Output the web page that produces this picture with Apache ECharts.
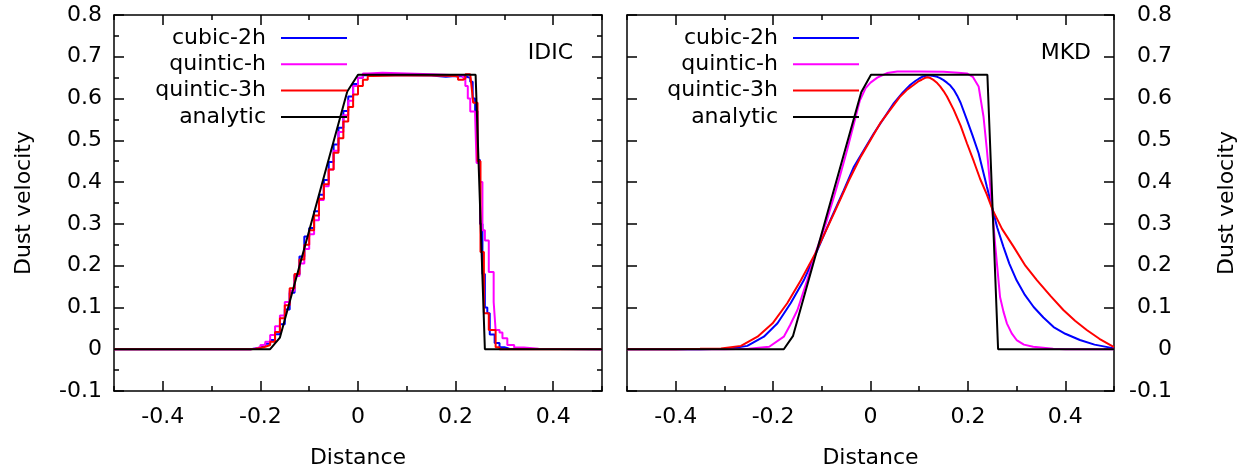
<!DOCTYPE html>
<html>
<head>
<meta charset="utf-8">
<script src="https://cdn.jsdelivr.net/npm/echarts@6/dist/echarts.min.js"></script>
<style>html,body{margin:0;padding:0;background:#fff;}#c{width:1246px;height:468px;}</style>
</head>
<body>
<div id="c"></div>
<script>
// ---- data ----
var seriesNames = ['cubic-2h', 'quintic-h', 'quintic-3h', 'analytic'];
var xMajorTicks = [-0.4, -0.2, 0, 0.2, 0.4];
var panelLabels = ['IDIC', 'MKD'];

var idicCubic2h = [[-0.5,0],[-0.23,0],[-0.22,0.002],[-0.21,0.004],[-0.2,0.008],[-0.19,0.013],[-0.18,0.022],[-0.17,0.036],[-0.16,0.06],[-0.15,0.095],[-0.14,0.135],[-0.13,0.178],[-0.12,0.222],[-0.11,0.27],[-0.1,0.29],[-0.09,0.33],[-0.08,0.37],[-0.07,0.405],[-0.06,0.448],[-0.05,0.49],[-0.04,0.53],[-0.03,0.57],[-0.02,0.605],[-0.01,0.635],[0,0.65],[0.01,0.656],[0.05,0.656],[0.1,0.655],[0.15,0.652],[0.18,0.654],[0.2,0.653],[0.22,0.65],[0.23,0.64],[0.235,0.6],[0.24,0.57],[0.245,0.453],[0.25,0.3],[0.255,0.18],[0.26,0.1],[0.265,0.086],[0.27,0.035],[0.28,0.015],[0.29,0.005],[0.3,0.001],[0.31,0],[0.5,0]];
var idicQuinticH = [[-0.5,0],[-0.23,0],[-0.22,0.002],[-0.21,0.005],[-0.2,0.01],[-0.19,0.018],[-0.18,0.034],[-0.17,0.055],[-0.16,0.081],[-0.15,0.113],[-0.14,0.14],[-0.13,0.175],[-0.12,0.205],[-0.11,0.24],[-0.1,0.275],[-0.09,0.309],[-0.08,0.357],[-0.07,0.39],[-0.06,0.43],[-0.05,0.475],[-0.04,0.52],[-0.03,0.56],[-0.02,0.595],[-0.01,0.63],[0,0.65],[0.01,0.66],[0.02,0.662],[0.05,0.66],[0.1,0.658],[0.15,0.656],[0.2,0.655],[0.215,0.65],[0.22,0.63],[0.225,0.6],[0.23,0.569],[0.24,0.56],[0.243,0.446],[0.25,0.4],[0.255,0.285],[0.26,0.26],[0.268,0.185],[0.278,0.113],[0.282,0.046],[0.29,0.04],[0.296,0.026],[0.306,0.01],[0.32,0.004],[0.34,0.001],[0.37,0],[0.5,0]];
var idicQuintic3h = [[-0.5,0],[-0.23,0],[-0.22,0.001],[-0.21,0.003],[-0.2,0.006],[-0.19,0.01],[-0.18,0.018],[-0.17,0.041],[-0.16,0.074],[-0.15,0.105],[-0.14,0.146],[-0.13,0.18],[-0.12,0.215],[-0.11,0.25],[-0.1,0.285],[-0.09,0.32],[-0.08,0.36],[-0.07,0.395],[-0.06,0.43],[-0.05,0.47],[-0.04,0.505],[-0.03,0.545],[-0.02,0.58],[-0.01,0.61],[0,0.63],[0.01,0.645],[0.02,0.654],[0.03,0.656],[0.1,0.655],[0.15,0.654],[0.2,0.652],[0.205,0.645],[0.215,0.648],[0.22,0.658],[0.23,0.655],[0.234,0.614],[0.236,0.59],[0.245,0.45],[0.251,0.233],[0.258,0.086],[0.268,0.046],[0.282,0.005],[0.29,0],[0.5,0]];
var idicAnalytic = [[-0.5,0],[-0.18,0],[-0.16,0.028],[-0.022,0.617],[0,0.657],[0.241,0.657],[0.26,0],[0.5,0]];

var mkdCubic2h = [[-0.5,0],[-0.35,0],[-0.3,0.001],[-0.287,0.002],[-0.253,0.008],[-0.219,0.03],[-0.191,0.062],[-0.164,0.11],[-0.137,0.165],[-0.109,0.237],[-0.082,0.31],[-0.055,0.38],[-0.034,0.437],[0.007,0.517],[0.048,0.589],[0.066,0.614],[0.082,0.633],[0.092,0.642],[0.1,0.648],[0.108,0.653],[0.116,0.655],[0.123,0.655],[0.13,0.654],[0.137,0.652],[0.143,0.649],[0.15,0.644],[0.157,0.638],[0.164,0.631],[0.171,0.621],[0.178,0.607],[0.185,0.59],[0.198,0.549],[0.21,0.51],[0.222,0.469],[0.239,0.389],[0.251,0.333],[0.26,0.292],[0.273,0.245],[0.285,0.205],[0.3,0.165],[0.317,0.13],[0.335,0.101],[0.355,0.076],[0.376,0.053],[0.4,0.037],[0.43,0.022],[0.46,0.011],[0.5,0.002]];
var mkdQuinticH = [[-0.5,0],[-0.3,0],[-0.25,0.001],[-0.208,0.006],[-0.178,0.03],[-0.165,0.058],[-0.15,0.094],[-0.13,0.165],[-0.113,0.23],[-0.092,0.3],[-0.075,0.365],[-0.065,0.405],[-0.048,0.477],[-0.034,0.54],[-0.022,0.595],[-0.01,0.625],[0,0.638],[0.014,0.65],[0.034,0.661],[0.055,0.665],[0.1,0.665],[0.15,0.664],[0.18,0.662],[0.198,0.66],[0.21,0.652],[0.222,0.629],[0.232,0.557],[0.239,0.477],[0.245,0.4],[0.251,0.32],[0.256,0.25],[0.26,0.2],[0.266,0.125],[0.273,0.09],[0.28,0.062],[0.29,0.038],[0.3,0.022],[0.315,0.011],[0.334,0.006],[0.375,0.001],[0.4,0],[0.5,0]];
var mkdQuintic3h = [[-0.5,0],[-0.4,0],[-0.35,0.001],[-0.307,0.002],[-0.266,0.008],[-0.232,0.03],[-0.201,0.062],[-0.171,0.11],[-0.143,0.165],[-0.113,0.23],[-0.075,0.325],[-0.044,0.405],[-0.02,0.461],[0.02,0.541],[0.061,0.605],[0.076,0.622],[0.089,0.633],[0.098,0.641],[0.105,0.645],[0.111,0.649],[0.117,0.651],[0.123,0.649],[0.13,0.644],[0.137,0.637],[0.143,0.629],[0.15,0.618],[0.157,0.605],[0.171,0.573],[0.185,0.535],[0.198,0.493],[0.212,0.45],[0.225,0.408],[0.239,0.37],[0.251,0.333],[0.27,0.288],[0.294,0.245],[0.318,0.2],[0.342,0.165],[0.37,0.127],[0.396,0.094],[0.42,0.068],[0.444,0.046],[0.47,0.025],[0.5,0.005]];
var mkdAnalytic = [[-0.5,0],[-0.178,0],[-0.159,0.032],[-0.019,0.615],[0.001,0.657],[0.24,0.657],[0.262,0],[0.5,0]];

// ---- styling ----
var FONT = 'DejaVu Sans';
var FS = 22;
var colors = {'cubic-2h':'#0000ff','quintic-h':'#ff00ff','quintic-3h':'#ff0000','analytic':'#000000'};
var axisLineStyle = {color:'#000', width:1.5};
var tickLine = {color:'#000', width:1.5};
function fmt(v){ return String(Math.round(v*10)/10); }

function xAxes(grid){
  var out = [];
  ['bottom','top'].forEach(function(pos){
    out.push({
      type:'value', gridIndex:grid, position:pos, min:-0.5, max:0.5, interval:0.1,
      axisLine:{show:true, onZero:false, lineStyle:axisLineStyle},
      axisTick:{show:true, inside:true, length:5, lineStyle:tickLine},
      axisLabel:{show:pos==='bottom', customValues:xMajorTicks, formatter:fmt, margin:15, color:'#000', fontSize:FS, fontFamily:FONT},
      splitLine:{show:false},
      name: pos==='bottom' ? 'Distance' : '', nameLocation:'middle', nameGap:56,
      nameTextStyle:{fontSize:FS, fontFamily:FONT, color:'#000'}
    });
    out.push({
      type:'value', gridIndex:grid, position:pos, min:-0.5, max:0.5, interval:0.1,
      axisLine:{show:false, onZero:false},
      axisTick:{show:true, inside:true, length:10, customValues:xMajorTicks, lineStyle:tickLine},
      axisLabel:{show:false}, splitLine:{show:false}
    });
  });
  return out;
}
function yAxis(grid, pos, labels, minor){
  var a = {
    type:'value', gridIndex:grid, position:pos, min:-0.1, max:0.8, interval:0.1,
    axisLine:{show:true, onZero:false, lineStyle:axisLineStyle},
    axisTick:{show:true, inside:true, length:10, lineStyle:tickLine},
    minorTick:{show:minor, splitNumber:2, length:5, lineStyle:tickLine},
    axisLabel:{show:labels, formatter:fmt, color:'#000', fontSize:FS, fontFamily:FONT},
    splitLine:{show:false}, minorSplitLine:{show:false}
  };
  if (labels) {
    a.name = 'Dust velocity'; a.nameLocation = 'middle';
    a.nameTextStyle = {fontSize:FS, fontFamily:FONT, color:'#000'};
    if (pos === 'left') { a.axisLabel.margin = 12; a.nameGap = 79; }
    else { a.axisLabel.margin = 58; a.axisLabel.align = 'right'; a.nameGap = 102; }
  }
  return a;
}
function mkSeries(name, data, xi, yi, step){
  var s = {name:name, type:'line', xAxisIndex:xi, yAxisIndex:yi, data:data, symbol:'none',
    lineStyle:{color:colors[name], width:2}, itemStyle:{color:colors[name]}, animation:false};
  if (step) s.step = 'end';
  return s;
}
function legend(rightPx){
  return {
    orient:'vertical', align:'right', right:rightPx, top:27, padding:0,
    icon:'rect', itemWidth:66, itemHeight:2, itemGap:4.3, selectedMode:false,
    textStyle:{fontSize:FS, fontFamily:FONT, color:'#000', lineHeight:22, padding:[0,10,0,0]},
    data:seriesNames
  };
}

var option = {
  backgroundColor:'#fff',
  animation:false,
  title:[
    {text:panelLabels[0], right:673, top:42, padding:0, textStyle:{fontSize:FS, fontWeight:'normal', fontFamily:FONT, color:'#000'}},
    {text:panelLabels[1], right:155, top:42, padding:0, textStyle:{fontSize:FS, fontWeight:'normal', fontFamily:FONT, color:'#000'}}
  ],
  legend:[legend(899), legend(387)],
  grid:[
    {left:114, right:644, top:15, bottom:77, containLabel:false, outerBoundsMode:'none'},
    {left:627, right:132, top:15, bottom:77, containLabel:false, outerBoundsMode:'none'}
  ],
  xAxis: xAxes(0).concat(xAxes(1)),
  yAxis:[yAxis(0,'left',true,true), yAxis(0,'right',false,true), yAxis(1,'left',false,false), yAxis(1,'right',true,false)],
  series:[
    mkSeries('cubic-2h', idicCubic2h, 0, 0, true),
    mkSeries('quintic-h', idicQuinticH, 0, 0, true),
    mkSeries('quintic-3h', idicQuintic3h, 0, 0, true),
    mkSeries('analytic', idicAnalytic, 0, 0, false),
    mkSeries('cubic-2h', mkdCubic2h, 4, 2, false),
    mkSeries('quintic-h', mkdQuinticH, 4, 2, false),
    mkSeries('quintic-3h', mkdQuintic3h, 4, 2, false),
    mkSeries('analytic', mkdAnalytic, 4, 2, false)
  ]
};
var chart = echarts.init(document.getElementById('c'), null, {renderer:'canvas'});
chart.setOption(option);
</script>
</body>
</html>
